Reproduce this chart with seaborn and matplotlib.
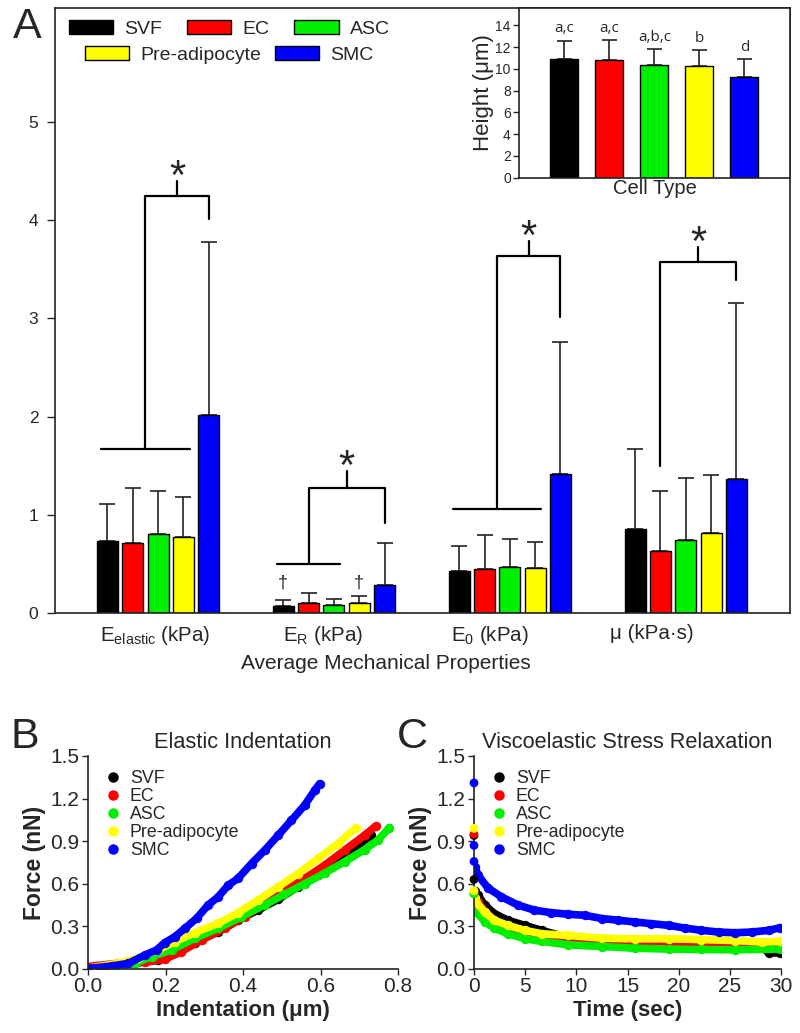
import pandas as pd
import matplotlib.pyplot as plt
import seaborn as sns
from matplotlib.patches import Patch
from matplotlib.lines import Line2D

sns.set_style("ticks")
plt.rcParams['font.family'] = ['Liberation Sans', 'DejaVu Sans']
plt.rcParams['mathtext.fontset'] = 'custom'
plt.rcParams['mathtext.rm'] = 'Liberation Sans'
plt.rcParams['mathtext.default'] = 'regular'

cells = ['SVF', 'EC', 'ASC', 'Pre-adipocyte', 'SMC']
colors = ['#000000', '#ff0000', '#00ee00', '#ffff00', '#0000ff']
props = ['E$_{elastic}$ (kPa)', 'E$_R$ (kPa)', 'E$_0$ (kPa)', 'μ (kPa·s)']

# panel A: mean and SD (upper bar only)
e_elastic = [0.73, 0.71, 0.80, 0.77, 2.02]
e_elastic_sd = [0.38, 0.56, 0.44, 0.41, 1.76]
e_r = [0.074, 0.10, 0.08, 0.10, 0.28]
e_r_sd = [0.056, 0.10, 0.06, 0.07, 0.43]
e_0 = [0.43, 0.45, 0.47, 0.46, 1.415]
e_0_sd = [0.25, 0.34, 0.28, 0.26, 1.345]
mu = [0.85, 0.63, 0.74, 0.81, 1.365]
mu_sd = [0.82, 0.61, 0.63, 0.59, 1.795]

# significance brackets per property (kPa units)
br_base = [1.67, 0.50, 1.06, 1.50]
br_top = [4.25, 1.276, 3.63, 3.57]
br_drop = [4.01, 0.92, 3.01, 3.39]
br_tick = [4.40, 1.45, 3.79, 3.73]
dagger_y = 0.31
# category labels sit a little left of the bar groups in the original
label_shift = [-0.017, -0.06, -0.115, -0.19]

# inset: cell height
height = [10.93, 10.84, 10.38, 10.22, 9.24]
height_sd = [1.67, 1.80, 1.42, 1.54, 1.66]
height_letters = ['a,c', 'a,c', 'a,b,c', 'b', 'd']

# panel B: elastic indentation (um, nN)
b_x_svf = [0.0, 0.03, 0.07, 0.121, 0.181, 0.224, 0.276, 0.336, 0.387, 0.439, 0.491, 0.542, 0.594, 0.645, 0.697, 0.731]
b_y_svf = [0.005, 0.01, 0.02, 0.04, 0.063, 0.11, 0.185, 0.262, 0.344, 0.415, 0.49, 0.579, 0.661, 0.766, 0.872, 0.94]
b_x_ec = [0.0, 0.078, 0.147, 0.198, 0.241, 0.293, 0.353, 0.404, 0.456, 0.507, 0.559, 0.611, 0.662, 0.714, 0.742]
b_y_ec = [0.017, 0.04, 0.047, 0.068, 0.122, 0.204, 0.286, 0.368, 0.462, 0.555, 0.637, 0.731, 0.836, 0.942, 1.005]
b_x_asc = [0.0, 0.07, 0.121, 0.164, 0.216, 0.276, 0.336, 0.396, 0.456, 0.507, 0.559, 0.611, 0.662, 0.714, 0.748, 0.778]
b_y_asc = [0.005, 0.02, 0.04, 0.087, 0.134, 0.216, 0.286, 0.368, 0.45, 0.525, 0.60, 0.675, 0.755, 0.84, 0.907, 0.996]
b_x_pre = [0.0, 0.078, 0.13, 0.181, 0.224, 0.276, 0.336, 0.387, 0.439, 0.491, 0.542, 0.594, 0.645, 0.692]
b_y_pre = [0.005, 0.04, 0.075, 0.134, 0.192, 0.256, 0.321, 0.396, 0.485, 0.579, 0.672, 0.778, 0.883, 0.996]
b_x_smc = [0.0, 0.044, 0.104, 0.147, 0.177, 0.198, 0.224, 0.25, 0.28, 0.31, 0.336, 0.362, 0.387, 0.422, 0.456, 0.491, 0.525, 0.559, 0.585, 0.598]
b_y_smc = [0.005, 0.015, 0.039, 0.098, 0.134, 0.185, 0.227, 0.286, 0.356, 0.45, 0.508, 0.59, 0.637, 0.742, 0.836, 0.942, 1.047, 1.153, 1.258, 1.305]

# panel C: stress relaxation (sec, nN); spike = points at t=0
c_spike_t = 0.0
c_spike_svf = [0.94, 0.63]
c_spike_ec = [0.95, 0.53]
c_spike_asc = [0.53]
c_spike_pre = [0.99, 0.55]
c_spike_smc = [1.31, 0.87, 0.757]
c_t_svf = [0.1, 0.39, 1.04, 2.0, 3.3, 4.96, 6.6, 9.2, 12.5, 15.7, 19.0, 22.2, 25.5, 28.1, 28.8, 29.9]
c_f_svf = [0.55, 0.52, 0.45, 0.39, 0.343, 0.307, 0.272, 0.22, 0.195, 0.185, 0.175, 0.17, 0.16, 0.153, 0.113, 0.113]
c_t_ec = [0.1, 0.39, 1.37, 2.67, 4.3, 5.9, 9.2, 12.5, 15.7, 19.0, 22.2, 25.5, 29.9]
c_f_ec = [0.5, 0.47, 0.378, 0.307, 0.26, 0.225, 0.2, 0.2, 0.184, 0.18, 0.18, 0.18, 0.17]
c_t_asc = [0.1, 0.23, 1.04, 2.0, 3.3, 4.96, 6.6, 9.2, 12.5, 15.7, 19.0, 22.2, 25.5, 29.9]
c_f_asc = [0.45, 0.40, 0.333, 0.286, 0.248, 0.213, 0.194, 0.17, 0.158, 0.146, 0.14, 0.137, 0.135, 0.14]
c_t_pre = [0.1, 0.23, 1.04, 2.0, 3.3, 4.96, 6.6, 9.2, 12.5, 15.7, 19.0, 22.2, 25.5, 28.1, 29.9]
c_f_pre = [0.5, 0.47, 0.40, 0.343, 0.307, 0.272, 0.248, 0.236, 0.217, 0.212, 0.212, 0.207, 0.2, 0.19, 0.194]
c_t_smc = [0.1, 0.39, 1.37, 2.67, 4.3, 5.9, 7.5, 9.2, 10.8, 12.5, 14.1, 15.7, 17.3, 19.0, 20.6, 22.2, 23.9, 25.5, 27.1, 28.8, 29.9]
c_f_smc = [0.72, 0.66, 0.57, 0.508, 0.45, 0.414, 0.397, 0.385, 0.378, 0.355, 0.343, 0.331, 0.319, 0.307, 0.288, 0.272, 0.26, 0.255, 0.26, 0.272, 0.291]

fig = plt.figure(figsize=(8, 10.33), dpi=100)

# ---------------- panel A ----------------
ax = fig.add_axes([0.06875, 0.4066, 0.919, 0.5857])
vals = [e_elastic, e_r, e_0, mu]
sds = [e_elastic_sd, e_r_sd, e_0_sd, mu_sd]
df = pd.DataFrame({
    'prop': [p for p in props for c in cells],
    'cell': [c for p in props for c in cells],
    'value': [v for row in vals for v in row],
})
sns.barplot(data=df, x='prop', y='value', hue='cell', hue_order=cells, order=props,
            palette=colors, width=0.72, gap=0.17, edgecolor='black', linewidth=1,
            errorbar=None, legend=False, ax=ax, saturation=1)
bars = sorted([p for p in ax.patches if p.get_width() > 0], key=lambda p: p.get_x())
xc = [p.get_x() + p.get_width() / 2 for p in bars]
flat_v = [v for row in vals for v in row]
flat_sd = [v for row in sds for v in row]
ax.errorbar(xc, flat_v, yerr=[[0] * len(flat_v), flat_sd], fmt='none', ecolor='#222222',
            elinewidth=1.2, capsize=6, capthick=1.2, zorder=0.5)

lw_br = 1.6
for g in range(4):
    b0 = bars[g * 5]
    if g == 1:
        b_end = bars[g * 5 + 2]
    else:
        b_end = bars[g * 5 + 3]
    x_left = b0.get_x() + 0.025
    x_right = b_end.get_x() + b_end.get_width() - 0.025
    if g == 3:
        x_mid = xc[g * 5 + 1]
    else:
        x_mid = (x_left + x_right) / 2
        ax.plot([x_left, x_right], [br_base[g], br_base[g]], color='black', lw=lw_br)
    x_smc = xc[g * 5 + 4]
    ax.plot([x_mid, x_mid, x_smc, x_smc], [br_base[g], br_top[g], br_top[g], br_drop[g]],
            color='black', lw=lw_br)
    x_t = (x_mid + x_smc) / 2
    ax.plot([x_t, x_t], [br_top[g], br_tick[g]], color='black', lw=lw_br)
    ax.annotate('*', xy=(x_t, br_tick[g]), xytext=(0, -6), textcoords='offset points',
                ha='center', va='baseline', fontsize=30)

for i in [5, 8]:
    ax.text(xc[i], dagger_y, '†', ha='center', va='center', fontsize=13)

ax.set_xlim(-0.586, 3.594)
ax.set_ylim(0, 6.16)
ax.set_xticks([k + s for k, s in zip(range(4), label_shift)])
ax.set_xticklabels(props)
ax.set_yticks([0, 1, 2, 3, 4, 5])
ax.tick_params(axis='y', direction='out', length=6, width=1, labelsize=12.5, pad=6)
ax.tick_params(axis='x', length=0, labelsize=14.8, pad=8)
ax.set_xlabel('Average Mechanical Properties', fontsize=15)
ax.xaxis.set_label_coords(0.45, -0.068)
ax.set_ylabel('')
for s in ax.spines.values():
    s.set_linewidth(1.2)
    s.set_color('#222222')

h1 = [Patch(facecolor=colors[i], edgecolor='black', label=cells[i]) for i in range(3)]
h2 = [Patch(facecolor=colors[i], edgecolor='black', label=cells[i]) for i in range(3, 5)]
leg_kw = dict(loc='center', frameon=False, fontsize=14, handlelength=2.27, handleheight=0.72,
              handletextpad=0.57, borderpad=0, borderaxespad=0)
leg1 = ax.legend(handles=h1, bbox_to_anchor=(0.237, 0.965), ncol=3, columnspacing=1.29, **leg_kw)
ax.add_artist(leg1)
ax.legend(handles=h2, bbox_to_anchor=(0.237, 0.922), ncol=2, columnspacing=0.72, **leg_kw)

# inset
axi = fig.add_axes([0.649, 0.828, 0.339, 0.1643])
sns.barplot(x=cells, y=height, hue=cells, palette=colors, width=0.62, edgecolor='black',
            linewidth=1, errorbar=None, legend=False, ax=axi, saturation=1)
ibars = sorted([p for p in axi.patches if p.get_width() > 0], key=lambda p: p.get_x())
ixc = [p.get_x() + p.get_width() / 2 for p in ibars]
axi.errorbar(ixc, height, yerr=[[0] * 5, height_sd], fmt='none', ecolor='#222222',
             elinewidth=1.2, capsize=5.4, capthick=1.2, zorder=0.5)
for i in range(5):
    axi.annotate(height_letters[i], xy=(ixc[i], height[i] + height_sd[i]), xytext=(0, 3),
                 textcoords='offset points', ha='center', va='bottom', fontsize=11,
                 family=['Open Sans', 'DejaVu Sans'])
axi.set_xlim(-1.0, 5.02)
axi.set_ylim(0, 15.6)
axi.set_yticks(range(0, 15, 2))
axi.set_xticks([])
axi.tick_params(axis='y', direction='out', length=4, width=1, labelsize=10, pad=2)
axi.set_xlabel('Cell Type', fontsize=14.5, labelpad=1)
axi.set_ylabel('Height (μm)', fontsize=16, labelpad=1)
for s in axi.spines.values():
    s.set_linewidth(1.2)
    s.set_color('#222222')

# ---------------- panels B and C ----------------
b_x = [b_x_svf, b_x_ec, b_x_asc, b_x_pre, b_x_smc]
b_y = [b_y_svf, b_y_ec, b_y_asc, b_y_pre, b_y_smc]
c_t = [c_t_svf, c_t_ec, c_t_asc, c_t_pre, c_t_smc]
c_f = [c_f_svf, c_f_ec, c_f_asc, c_f_pre, c_f_smc]
c_spike = [c_spike_svf, c_spike_ec, c_spike_asc, c_spike_pre, c_spike_smc]

axb = fig.add_axes([0.11, 0.062, 0.3875, 0.2062])
axc = fig.add_axes([0.5925, 0.062, 0.384, 0.2062])

for i in range(5):
    sns.lineplot(x=b_x[i], y=b_y[i], color=colors[i], lw=5.5, marker='o', ms=6, mec=colors[i],
                 sort=False, estimator=None, ax=axb)
for i in range(5):
    sns.lineplot(x=c_t[i], y=c_f[i], color=colors[i], lw=5.5, marker='o', ms=6, mec=colors[i],
                 sort=False, estimator=None, ax=axc)
    sns.scatterplot(x=[c_spike_t] * len(c_spike[i]), y=c_spike[i], color=colors[i], s=40,
                    edgecolor='none', ax=axc, zorder=3, clip_on=False)

for a, xl, title in [(axb, 'Indentation (μm)', 'Elastic Indentation'),
                     (axc, 'Time (sec)', 'Viscoelastic Stress Relaxation')]:
    sns.despine(ax=a)
    a.set_ylim(0, 1.5)
    a.set_yticks([0, 0.3, 0.6, 0.9, 1.2, 1.5])
    a.set_yticklabels(['0.0', '0.3', '0.6', '0.9', '1.2', '1.5'])
    a.tick_params(direction='out', length=4, width=1, labelsize=15, pad=2)
    a.set_xlabel(xl, fontsize=16, fontweight='bold', labelpad=3)
    a.set_ylabel('Force (nN)', fontsize=16.5, fontweight='bold', labelpad=3)
    a.set_title(title, fontsize=15.7, pad=6)
    for s in a.spines.values():
        s.set_linewidth(1.2)
        s.set_color('#222222')
    handles = [Line2D([], [], ls='none', marker='o', ms=6.5, color=colors[i], label=cells[i])
               for i in range(5)]
    a.legend(handles=handles, loc='upper left', bbox_to_anchor=(0.058, 0.935), frameon=False,
             fontsize=12.8, handlelength=0.8, handletextpad=0.55, labelspacing=0.06,
             borderpad=0, borderaxespad=0)

axb.set_xlim(0, 0.8)
axb.set_xticks([0, 0.2, 0.4, 0.6, 0.8])
axb.set_xticklabels(['0.0', '0.2', '0.4', '0.6', '0.8'])
axc.set_xlim(0, 30)
axc.set_xticks([0, 5, 10, 15, 20, 25, 30])

fig.text(0.034, 1 - 27 / 1033, 'A', ha='center', va='center', fontsize=31)
fig.text(0.031, 1 - 737 / 1033, 'B', ha='center', va='center', fontsize=31)
fig.text(0.515, 1 - 737 / 1033, 'C', ha='center', va='center', fontsize=31)

fig.savefig('out.png', dpi=100)
